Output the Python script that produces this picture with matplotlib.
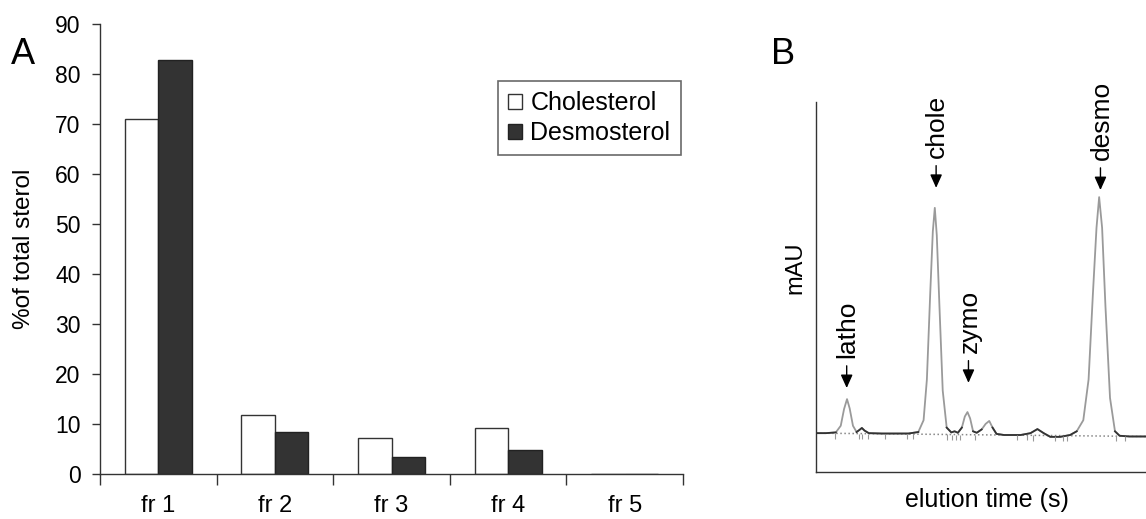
import numpy as np
import matplotlib
matplotlib.use("Agg")
import matplotlib.pyplot as plt
from matplotlib.patches import Patch

plt.rcParams['font.family'] = ['Liberation Sans', 'DejaVu Sans']

## Panel A data: % of total sterol per fraction
fractions = ['fr 1', 'fr 2', 'fr 3', 'fr 4', 'fr 5']
cholesterol = [71.1, 11.8, 7.3, 9.3, 0.0]
desmosterol = [82.8, 8.4, 3.5, 4.9, 0.0]

## Panel B data: chromatogram trace (arbitrary units)
trace_t = [0, 3, 6, 7.5, 8.5, 9.4, 10.2, 11.2, 12.3, 13.2, 13.9, 14.7, 16, 20, 28, 31,
           32.6, 33.6, 34.6, 35.4, 36.0, 36.6, 37.4, 38.4, 39.6, 41, 42, 43, 44.2, 45.1,
           45.9, 46.7, 47.6, 48.7, 50.2, 51.4, 52.5, 53.5, 54.7, 57, 62, 65, 67.1, 69,
           71, 74, 77, 79, 81, 82.6, 83.9, 85.0, 85.8, 86.7, 87.7, 89.1, 90.6, 92, 95, 100]
trace_y = [10.5, 10.5, 10.7, 12.5, 17.0, 19.7, 17.2, 12.5, 10.8, 11.4, 11.9, 11.2, 10.5, 10.4, 10.4, 10.8,
           14.0, 25.0, 48.0, 65.0, 71.4, 64.0, 45.0, 22.0, 12.0, 10.7, 11.0, 10.6, 12.0, 15.0,
           16.2, 14.5, 11.0, 10.6, 11.5, 13.0, 13.8, 12.0, 10.3, 10.0, 10.0, 10.5, 11.6, 10.5,
           9.5, 9.5, 10.0, 11.0, 14.0, 25.0, 48.0, 66.0, 74.3, 66.0, 45.0, 20.0, 11.0, 9.8, 9.6, 9.6]
baseline_t = [0, 100]
baseline_y = [10.5, 9.6]
marker_t = [5.8, 13.1, 13.8, 15.9, 20.9, 27.7, 29.5, 39.8, 41.1, 42.3, 43.6, 48.2,
            60.8, 63.8, 65.9, 72.4, 74.9, 76.0, 90.9, 93.6]

peak_names = ['latho', 'chole', 'zymo', 'desmo']
peak_t = [9.3, 36.4, 46.2, 86.2]
peak_tip = [22.7, 76.8, 24.1, 76.2]

fig = plt.figure(figsize=(11.46, 5.19), dpi=100)

## ---------------- Panel A ----------------
axA = fig.add_axes([100/1146, 1-474/519, 583/1146, 450/519])
x = np.arange(len(fractions))
w = 0.287
axA.bar(x - w/2, cholesterol, w, color='white', edgecolor='#333333', linewidth=1.0,
        label='Cholesterol')
axA.bar(x + w/2, desmosterol, w, color='#333333', edgecolor='#222222', linewidth=1.0,
        label='Desmosterol')

axA.set_xlim(-0.5, len(fractions) - 0.5)
axA.set_ylim(0, 90)
axA.set_yticks(range(0, 91, 10))
axA.set_xticks(np.arange(-0.5, len(fractions), 1.0))
axA.set_xticklabels([])
axA.set_xticks(x, minor=True)
axA.set_xticklabels(fractions, minor=True)
axA.tick_params(axis='x', which='major', direction='out', length=8, width=1, color='#333333')
axA.tick_params(axis='x', which='minor', length=0, pad=15, labelsize=17)
axA.tick_params(axis='y', direction='out', length=6, width=1, color='#333333',
                labelsize=16.5, pad=8)
for s in ['top', 'right']:
    axA.spines[s].set_visible(False)
for s in ['left', 'bottom']:
    axA.spines[s].set_color('#333333')
    axA.spines[s].set_linewidth(1)

fig.text(24/1146, 1-249/519, '%of total sterol', rotation=90, ha='center', va='center',
         fontsize=17.5)
fig.text(23/1146, 1-55/519, 'A', ha='center', va='center', fontsize=26)

handles = [Patch(facecolor='white', edgecolor='#333333', linewidth=1),
           Patch(facecolor='#333333', edgecolor='#222222', linewidth=1)]
leg = fig.legend(handles, ['Cholesterol', 'Desmosterol'], loc='upper left',
                 bbox_to_anchor=(498/1146, 1-81/519), fontsize=18, frameon=True,
                 fancybox=False, handlelength=0.55, handleheight=0.55, handletextpad=0.35,
                 borderpad=0.4, labelspacing=0.25, borderaxespad=0)
leg.get_frame().set_edgecolor('#444444')
leg.get_frame().set_linewidth(1.2)

## ---------------- Panel B ----------------
axB = fig.add_axes([816/1146, 1-472/519, 330/1146, 370/519])
axB.plot(baseline_t, baseline_y, color='#888888', linestyle=':', linewidth=1.1)
axB.plot(trace_t, trace_y, color='#9a9a9a', linewidth=1.3)
flat_y = np.where(np.array(trace_y) <= 12.0, trace_y, np.nan)
axB.plot(trace_t, flat_y, color='#333333', linewidth=1.3)
base_at = np.interp(marker_t, baseline_t, baseline_y)
axB.vlines(marker_t, base_at - 1.4, base_at, color='#999999', linewidth=0.8)
axB.set_xlim(0, 100)
axB.set_ylim(0, 100)
axB.set_xticks([])
axB.set_yticks([])
for s in ['top', 'right']:
    axB.spines[s].set_visible(False)
for s in ['left', 'bottom']:
    axB.spines[s].set_color('#333333')
    axB.spines[s].set_linewidth(1)

for name, t, tip in zip(peak_names, peak_t, peak_tip):
    axB.annotate('', xy=(t, tip), xytext=(t, tip + 6.0), annotation_clip=False,
                 arrowprops=dict(arrowstyle='-|>,head_length=0.8,head_width=0.36',
                                 color='black', lw=1, shrinkA=0, shrinkB=0))
    axB.text(t + 0.3, tip + 8.0, name, rotation=90, ha='center', va='bottom',
             fontsize=19, clip_on=False)

fig.text(795/1146, 1-268/519, 'mAU', rotation=90, ha='center', va='center', fontsize=17)
fig.text(987/1146, 1-500/519, 'elution time (s)', ha='center', va='center', fontsize=18)
fig.text(783/1146, 1-55/519, 'B', ha='center', va='center', fontsize=26)

fig.savefig('out.png', dpi=100)
